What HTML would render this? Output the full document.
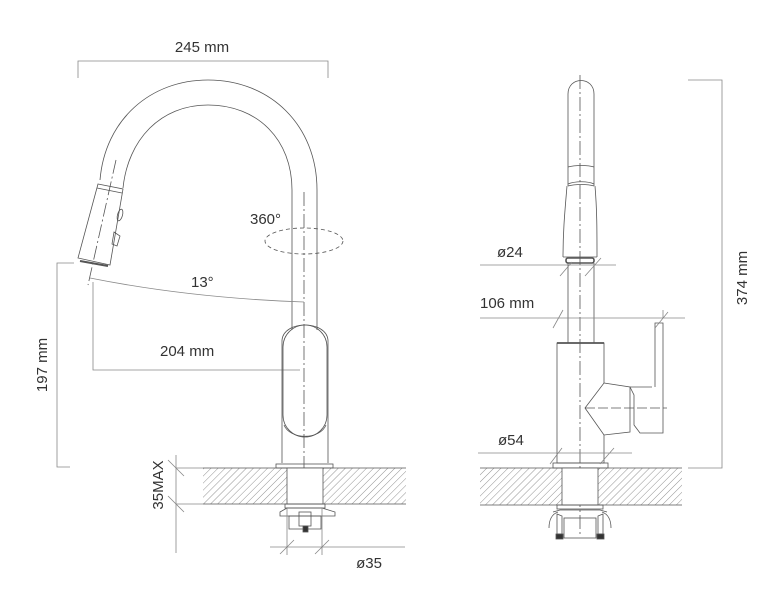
<!DOCTYPE html>
<html><head><meta charset="utf-8"><style>
html,body{margin:0;padding:0;background:#fff;}
svg{display:block;}
text{font-family:"Liberation Sans",sans-serif;font-size:15px;fill:#333;}
</style></head><body>
<svg width="784" height="598" viewBox="0 0 784 598" xmlns="http://www.w3.org/2000/svg">
<defs>
<pattern id="h" patternUnits="userSpaceOnUse" width="5" height="5" patternTransform="rotate(45)">
<line x1="0" y1="0" x2="0" y2="5" stroke="#777" stroke-width="0.8"/>
</pattern>
</defs>
<g fill="none" stroke="#555" stroke-width="0.8">
<path d="M78 78 V61 H328 V78" stroke="#888"/>
<path d="M100 180 C105 120 150 80 208 80 C270 80 317 125 317 190 V330"/>
<path d="M123 188 C128 140 160 105 208 105 C258 105 292 140 292 190 V330"/>
<path d="M98 184 L123 189 L110 265 L78 258 Z"/>
<path d="M97 188 L122 193"/>
<path d="M80 261 L108 266" stroke-width="2"/>
<ellipse cx="120" cy="215" rx="2.5" ry="6" transform="rotate(15 120 215)"/>
<path d="M114 232 L120 236 L117 246 L112 244 Z"/>
<line x1="116" y1="160" x2="88" y2="285" stroke-dasharray="14 3 2 3"/>
<line x1="304" y1="192" x2="304" y2="500" stroke-dasharray="14 3 2 3"/>
<ellipse cx="304" cy="241" rx="39" ry="13" stroke-dasharray="4 3"/>
<path d="M90 278 Q190 298 304 302" stroke="#888"/>
<path d="M93 282 V370 H300" stroke="#888"/>
<path d="M74 263 H57 V467 H70" stroke="#888"/>
<path d="M282 340 V463 M328 340 V463"/>
<path d="M282 340 C284 320 326 320 328 340"/>
<rect x="283" y="325" width="44" height="112" rx="22"/>
<path d="M284 425 C290 440 320 440 326 425"/>
<rect x="276" y="464" width="57" height="4"/>
<rect x="203" y="468" width="203" height="36" fill="url(#h)" stroke="none"/>
<line x1="203" y1="468" x2="406" y2="468"/>
<line x1="203" y1="504" x2="406" y2="504"/>
<rect x="287" y="468" width="36" height="36" fill="#fff"/>
<rect x="285" y="504" width="40" height="4"/>
<path d="M287 508 H322 L335 512 V516 H280 V512 Z"/>
<rect x="289" y="516" width="32" height="13"/>
<rect x="299" y="512" width="12" height="14"/>
<rect x="303" y="526" width="5" height="6" fill="#333"/>
<path d="M176 455 V553 M176 468 H203 M176 504 H203" stroke="#888"/>
<path d="M168 460 L184 476 M168 496 L184 512" stroke="#888"/>
<path d="M270 547 H405 M287 508 V555 M322 508 V555 M280 554 L294 540 M315 554 L329 540" stroke="#888"/>

<line x1="580" y1="75" x2="580" y2="537" stroke-dasharray="14 3 2 3"/>
<path d="M568 167 V94 C568 76 594 76 594 94 V167"/>
<path d="M568 167 C575 165 588 165 594 167 M568 184 C575 181 588 181 594 184 M568 186 C575 184 588 184 594 186"/>
<path d="M568 167 V186 M594 167 V186"/>
<path d="M567 186 C565 210 563 230 563 257 M595 186 C597 210 597 230 597 257"/>
<path d="M563 257 H597"/>
<rect x="566" y="258" width="28" height="5" rx="2" stroke-width="1.6"/>
<path d="M568 263 V343 M594 263 V343"/>
<rect x="557" y="343" width="47" height="120"/>
<line x1="557" y1="343" x2="604" y2="343" stroke-width="1.8"/>
<path d="M604 383 L630 387 L630 432 L604 435 L585 408 Z" fill="#fff"/>
<path d="M630 387 H652 M655 387 V323 H663 V433 H640 L634 425 V395 L630 387"/>
<line x1="585" y1="408" x2="667" y2="408" stroke-dasharray="10 3"/>
<rect x="553" y="463" width="55" height="5"/>
<rect x="480" y="468" width="202" height="37" fill="url(#h)" stroke="none"/>
<line x1="480" y1="468" x2="682" y2="468"/>
<line x1="480" y1="505" x2="682" y2="505"/>
<rect x="562" y="468" width="36" height="37" fill="#fff"/>
<rect x="557" y="505" width="46" height="4"/>
<path d="M553 512 L560 510 H600 L607 512"/>
<path d="M549 528 C549 520 552 514 558 512 M611 528 C611 520 608 514 602 512"/>
<rect x="564" y="518" width="32" height="20"/>
<path d="M557 514 L562 516 V534 H557 Z M603 514 L598 516 V534 H603 Z"/>
<rect x="556" y="534" width="7" height="5" fill="#333"/>
<rect x="597" y="534" width="7" height="5" fill="#333"/>
<path d="M688 80 H722 V468 H688" stroke="#888"/>
<path d="M480 265 H616 M560 276 L572 262 M585 276 L601 258" stroke="#888"/>
<path d="M480 318 H685 M553 328 L563 310 M655 328 L668 312 M663 318 V310" stroke="#888"/>
<path d="M478 453 H632 M550 464 L562 448 M600 464 L614 448" stroke="#888"/>
</g>
<text x="202" y="52" text-anchor="middle">245 mm</text>
<text x="250" y="224">360°</text>
<text x="191" y="287">13°</text>
<text x="160" y="356">204 mm</text>
<text x="369" y="568" text-anchor="middle">ø35</text>
<text transform="translate(47 365) rotate(-90)" text-anchor="middle">197 mm</text>
<text transform="translate(163 485) rotate(-90)" text-anchor="middle">35MAX</text>
<text x="497" y="257">ø24</text>
<text x="480" y="308">106 mm</text>
<text x="498" y="445">ø54</text>
<text transform="translate(747 278) rotate(-90)" text-anchor="middle">374 mm</text>
</svg>
</body></html>
